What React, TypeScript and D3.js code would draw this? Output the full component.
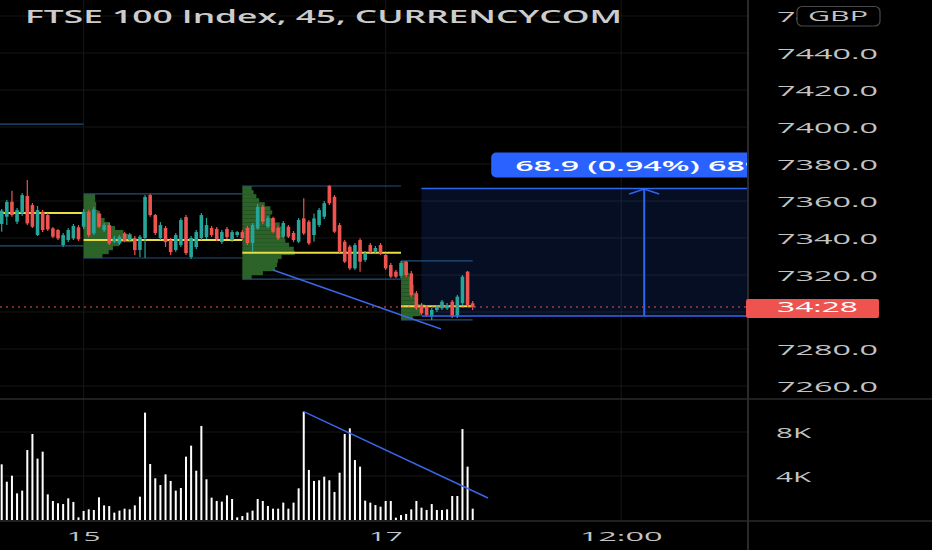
import React, { useEffect, useRef } from 'react';
import * as d3 from 'd3';

const W = 932;
const H = 550;

// 45-minute candles (index 0 = first visible bar)
const opens = [
  7347.6, 7351.5, 7359.6, 7348.8, 7353.3, 7362.7, 7357.8, 7341.6, 7354.2, 7352.4,
  7345.2, 7344.3, 7336.2, 7338.9, 7339.8, 7345.8, 7346.1, 7354.2, 7342.5, 7353.3,
  7344.3, 7347.0, 7338.0, 7337.1, 7342.5, 7338.9, 7339.8, 7333.5, 7340.0, 7363.2,
  7352.4, 7340.0, 7345.4, 7338.9, 7333.5, 7336.2, 7351.3, 7329.7, 7335.1, 7340.0,
  7340.5, 7345.4, 7344.9, 7337.8, 7344.9, 7338.9, 7341.6, 7343.2, 7345.4, 7337.3,
  7345.2, 7356.9, 7346.1, 7350.8, 7345.4, 7340.7, 7346.1, 7342.7, 7338.0, 7350.6,
  7348.8, 7341.6, 7347.0, 7351.5, 7368.1, 7362.3, 7347.0, 7338.0, 7335.3, 7323.6,
  7338.9, 7328.1, 7336.2, 7332.6, 7336.2, 7330.8, 7325.4, 7321.8, 7319.5, 7327.2,
  7320.9, 7310.1, 7303.8, 7302.9, 7297.5, 7301.1, 7302.0, 7302.0, 7305.6, 7297.5,
  7304.7, 7321.8, 7304.7,
];
const highs = [
  7355.7, 7360.5, 7365.6, 7356.2, 7364.3, 7371.4, 7358.9, 7357.3, 7355.1, 7353.5,
  7345.9, 7344.9, 7342.7, 7345.4, 7347.6, 7347.0, 7355.7, 7355.1, 7356.8, 7354.6,
  7348.1, 7348.1, 7341.1, 7341.6, 7343.2, 7342.7, 7341.1, 7341.6, 7363.2, 7363.8,
  7353.0, 7348.6, 7346.5, 7340.0, 7342.7, 7350.8, 7352.4, 7341.1, 7344.3, 7353.5,
  7350.8, 7346.5, 7345.9, 7344.3, 7345.9, 7344.3, 7343.8, 7344.3, 7346.5, 7348.1,
  7358.4, 7357.8, 7351.9, 7351.5, 7346.5, 7349.2, 7347.0, 7343.8, 7350.8, 7361.5,
  7349.7, 7353.3, 7356.2, 7360.0, 7368.6, 7363.2, 7348.1, 7338.9, 7336.2, 7337.3,
  7339.8, 7333.0, 7337.3, 7335.7, 7337.3, 7331.9, 7326.5, 7322.7, 7327.6, 7327.6,
  7322.2, 7311.4, 7304.9, 7303.8, 7302.2, 7303.8, 7306.5, 7304.9, 7306.5, 7309.2,
  7320.0, 7322.2, 7305.9,
];
const lows = [
  7343.4, 7347.0, 7351.5, 7347.6, 7351.9, 7347.0, 7345.4, 7341.1, 7343.2, 7343.8,
  7340.0, 7338.9, 7335.1, 7337.8, 7338.9, 7338.4, 7344.9, 7340.5, 7341.6, 7345.4,
  7343.2, 7336.2, 7337.3, 7336.2, 7337.8, 7337.8, 7330.8, 7329.7, 7329.2, 7351.5,
  7341.6, 7338.9, 7335.1, 7330.8, 7332.4, 7335.1, 7330.8, 7328.6, 7334.1, 7338.9,
  7339.5, 7340.5, 7338.4, 7336.8, 7339.5, 7337.8, 7340.5, 7338.9, 7336.2, 7332.4,
  7344.3, 7347.6, 7345.4, 7342.7, 7338.9, 7340.0, 7340.0, 7337.8, 7337.3, 7341.6,
  7336.2, 7338.0, 7345.9, 7350.3, 7357.8, 7342.7, 7331.9, 7326.5, 7322.7, 7322.7,
  7321.8, 7327.0, 7331.9, 7331.9, 7330.8, 7322.7, 7318.4, 7318.4, 7318.4, 7318.9,
  7308.1, 7301.1, 7298.4, 7297.3, 7295.7, 7300.0, 7301.1, 7301.1, 7296.8, 7296.8,
  7303.8, 7302.7, 7301.1,
];
const closes = [
  7354.8, 7359.5, 7352.4, 7355.1, 7363.2, 7347.9, 7346.1, 7355.1, 7344.3, 7344.7,
  7340.7, 7339.8, 7341.6, 7344.3, 7346.5, 7339.3, 7354.2, 7341.6, 7355.5, 7346.1,
  7347.0, 7337.1, 7339.8, 7340.7, 7338.5, 7341.6, 7333.5, 7340.7, 7362.2, 7352.4,
  7342.7, 7347.0, 7337.8, 7332.4, 7341.6, 7349.7, 7331.9, 7340.0, 7343.2, 7352.4,
  7347.0, 7341.6, 7339.5, 7343.2, 7340.5, 7343.2, 7343.2, 7340.0, 7337.3, 7347.0,
  7356.9, 7348.8, 7350.8, 7343.4, 7339.8, 7348.1, 7340.7, 7338.9, 7349.7, 7342.5,
  7337.1, 7350.6, 7355.1, 7358.8, 7358.8, 7343.4, 7332.6, 7327.2, 7323.6, 7336.2,
  7327.2, 7331.7, 7332.6, 7334.6, 7331.7, 7323.6, 7319.1, 7319.1, 7326.5, 7320.0,
  7309.2, 7302.0, 7299.3, 7298.4, 7301.1, 7302.9, 7305.6, 7303.8, 7297.5, 7308.3,
  7319.1, 7303.8, 7302.7,
];
const volumes = [
  5060, 3480, 4030, 2420, 2670, 6360, 7820, 5580, 6210, 2330,
  1730, 1520, 1450, 1970, 1640, 240, 820, 970, 910, 2060,
  1330, 1270, 670, 850, 1030, 970, 1330, 2120, 9760, 5090,
  3790, 3180, 4150, 3550, 2670, 2910, 5760, 6760, 4480, 8550,
  3700, 2030, 1730, 1670, 2240, 1910, 240, 360, 670, 850,
  1910, 1730, 1270, 1030, 1030, 1580, 1030, 1580, 2880, 9850,
  4550, 3550, 3610, 3940, 3610, 2550, 4300, 7820, 8330, 5450,
  4850, 1760, 1580, 1360, 1210, 1730, 1730, 210, 450, 550,
  970, 1730, 1120, 910, 1450, 910, 910, 970, 2180, 2180,
  8270, 4850, 1030,
];

const priceTicks = [7260, 7280, 7300, 7320, 7340, 7360, 7380, 7400, 7420, 7440, 7460];
const volumeTicks = [4000, 8000];
const volumeTickLabels = ['4K', '8K'];
const timeTicks = [16, 75, 121];
const timeLabels = ['15', '17', '12:00'];

// session volume profiles (bar range, price range, row volumes top -> bottom)
const profileStart = [-15, 16, 47, 78];
const profileEnd = [16, 47, 78, 92];
const profileHigh = [7401.6, 7363.8, 7368.1, 7327.6];
const profileLow = [7335.7, 7329.2, 7317.8, 7295.7];
const profileRows = [
  [4, 5, 6, 6, 7, 8, 9, 10, 10, 12, 14, 16, 18, 20, 22, 24, 26, 30, 25, 20, 16, 12, 8, 5],
  [11, 11, 12, 12, 14, 17, 20, 25, 30, 38, 46, 50, 34, 28, 24, 18],
  [10, 12, 15, 18, 24, 30, 32, 30, 34, 40, 42, 44, 45, 46, 50, 55, 56, 42, 38, 37, 35, 22, 10],
  [5, 6, 7, 8, 10, 12, 13, 13, 14, 15, 16, 24, 22, 20, 12],
];

const priceTrend: [number, number][] = [[53, 7322.7], [85.8, 7290.8]];
const volumeTrend: [number, number][] = [[59, 9850], [95, 2000]];

const measureBars = [82, 169];
const measurePrices = [7297.9, 7366.8];
const measureText = '68.9 (0.94%) 689';

const title = 'FTSE 100 Index, 45, CURRENCYCOM';
const countdown = '34:28';
const currency = 'GBP';

const UP = '#26a69a';
const DOWN = '#ef5350';
const AXIS_TEXT = '#c3c3c3';
const FONT = '"Open Sans", "Noto Sans", sans-serif';

export default function App() {
  const svgRef = useRef<SVGSVGElement | null>(null);

  useEffect(() => {
    if (!svgRef.current) return;
    document.body.style.margin = '0';
    const svg = d3.select(svgRef.current);
    svg.selectAll('*').remove();

    const plotRight = 748;
    const priceBottom = 399;
    const volBottom = 521;

    const x = d3.scaleLinear().domain([0, 92]).range([1.7, 472.7]);
    const y = d3.scaleLinear().domain([7260, 7440]).range([386, 53]);
    const yv = d3.scaleLinear().domain([0, 8000]).range([520, 432]);

    const text = (
      g: any, str: string, tx: number, ty: number, size: number, len: number,
      fill = AXIS_TEXT, anchor = 'start', weight = 400,
    ) =>
      g.append('text')
        .attr('x', tx)
        .attr('y', ty)
        .attr('fill', fill)
        .attr('text-anchor', anchor)
        .attr('textLength', len)
        .attr('lengthAdjust', 'spacingAndGlyphs')
        .style('font-family', FONT)
        .style('font-size', `${size}px`)
        .style('font-weight', weight)
        .text(str);

    svg.append('rect').attr('width', W).attr('height', H).attr('fill', '#000');

    const defs = svg.append('defs');
    defs.append('clipPath').attr('id', 'price-clip')
      .append('rect').attr('x', 0).attr('y', 0).attr('width', plotRight - 1).attr('height', priceBottom);
    defs.append('clipPath').attr('id', 'vol-clip')
      .append('rect').attr('x', 0).attr('y', priceBottom).attr('width', plotRight - 1).attr('height', volBottom - priceBottom);
    // the topmost price label slips under the currency badge
    defs.append('clipPath').attr('id', 'badge-clip')
      .append('rect').attr('x', plotRight).attr('y', 0).attr('width', 797 - plotRight).attr('height', 40);

    // Grid
    const grid = svg.append('g').attr('stroke', '#171717').attr('stroke-width', 1);
    priceTicks.forEach((p) => {
      grid.append('line').attr('x1', 0).attr('x2', plotRight).attr('y1', y(p)).attr('y2', y(p));
    });
    volumeTicks.forEach((v) => {
      grid.append('line').attr('x1', 0).attr('x2', plotRight).attr('y1', yv(v)).attr('y2', yv(v));
    });
    timeTicks.forEach((t) => {
      grid.append('line').attr('x1', x(t)).attr('x2', x(t)).attr('y1', 0).attr('y2', volBottom);
    });

    // ---- Price pane
    const pg = svg.append('g').attr('clip-path', 'url(#price-clip)');

    const mx0 = x(measureBars[0]);
    const mx1 = x(measureBars[1]);
    const my0 = y(measurePrices[0]);
    const my1 = y(measurePrices[1]);
    const mMid = (mx0 + mx1) / 2;

    pg.append('rect')
      .attr('x', mx0).attr('y', my1)
      .attr('width', mx1 - mx0).attr('height', my0 - my1)
      .attr('fill', 'rgba(41, 98, 255, 0.14)');

    // Volume profiles
    profileRows.forEach((rows, k) => {
      const px0 = x(profileStart[k]);
      const px1 = x(profileEnd[k]);
      const top = y(profileHigh[k]);
      const bottom = y(profileLow[k]);
      const rowH = (bottom - top) / rows.length;
      const wScale = d3.scaleLinear().domain([0, d3.max(rows) || 1]).range([0, (px1 - px0) * 0.33]);
      const pocIdx = rows.indexOf(d3.max(rows) || 0);

      pg.append('g').selectAll('rect').data(rows).enter().append('rect')
        .attr('x', px0)
        .attr('y', (_d: number, i: number) => top + i * rowH)
        .attr('width', (d: number) => wScale(d))
        .attr('height', rowH + 0.2)
        .attr('fill', '#2c6329');

      [top, bottom].forEach((ly) => {
        pg.append('line').attr('x1', px0).attr('x2', px1).attr('y1', ly).attr('y2', ly)
          .attr('stroke', '#24507a').attr('stroke-width', 1.2);
      });
      const pocY = top + (pocIdx + 0.5) * rowH;
      pg.append('line').attr('x1', px0).attr('x2', px1).attr('y1', pocY).attr('y2', pocY)
        .attr('stroke', '#e9dc45').attr('stroke-width', 2);
    });

    // Trend line on price
    pg.append('path')
      .datum(priceTrend)
      .attr('fill', 'none')
      .attr('stroke', '#3a66e8')
      .attr('stroke-width', 1.5)
      .attr('d', d3.line<[number, number]>().x((d) => x(d[0])).y((d) => y(d[1])));

    // Candles
    const idx = d3.range(closes.length);
    const bodyW = 3.6;
    const cg = pg.append('g');
    cg.selectAll('line.wick').data(idx).enter().append('line')
      .attr('x1', (i: number) => x(i)).attr('x2', (i: number) => x(i))
      .attr('y1', (i: number) => y(highs[i])).attr('y2', (i: number) => y(lows[i]))
      .attr('stroke', (i: number) => (closes[i] >= opens[i] ? UP : DOWN))
      .attr('stroke-width', 1.2);
    cg.selectAll('rect.body').data(idx).enter().append('rect')
      .attr('x', (i: number) => x(i) - bodyW / 2)
      .attr('y', (i: number) => y(Math.max(opens[i], closes[i])))
      .attr('width', bodyW)
      .attr('height', (i: number) => Math.max(1, Math.abs(y(opens[i]) - y(closes[i]))))
      .attr('fill', (i: number) => (closes[i] >= opens[i] ? UP : DOWN));

    // Current price line
    const lastY = y(closes[closes.length - 1]);
    pg.append('line').attr('x1', 0).attr('x2', plotRight).attr('y1', lastY).attr('y2', lastY)
      .attr('stroke', DOWN).attr('stroke-width', 1).attr('stroke-dasharray', '2 4');

    // Measure tool
    [my0, my1].forEach((ly) => {
      pg.append('line').attr('x1', mx0).attr('x2', mx1).attr('y1', ly).attr('y2', ly)
        .attr('stroke', '#2f66f0').attr('stroke-width', 1.5);
    });
    pg.append('line').attr('x1', mMid).attr('x2', mMid).attr('y1', my0).attr('y2', my1 + 1)
      .attr('stroke', '#2f66f0').attr('stroke-width', 2);
    pg.append('path')
      .attr('d', `M${mMid - 15},${my1 + 5.5}L${mMid},${my1 + 0.5}L${mMid + 15},${my1 + 5.5}`)
      .attr('fill', 'none').attr('stroke', '#2f66f0').attr('stroke-width', 1.5);
    pg.append('rect')
      .attr('x', mMid - 153).attr('y', my1 - 36).attr('width', 306).attr('height', 25).attr('rx', 5)
      .attr('fill', '#2962ff');
    text(pg, measureText, mMid - 129, my1 - 17.5, 15, 248, '#ffffff', 'start', 600);

    // ---- Volume pane
    const vg = svg.append('g').attr('clip-path', 'url(#vol-clip)');
    vg.selectAll('rect').data(idx).enter().append('rect')
      .attr('x', (i: number) => x(i) - 1)
      .attr('y', (i: number) => yv(volumes[i]))
      .attr('width', 2)
      .attr('height', (i: number) => yv(0) - yv(volumes[i]))
      .attr('fill', '#ffffff');
    vg.append('path')
      .datum(volumeTrend)
      .attr('fill', 'none')
      .attr('stroke', '#3a66e8')
      .attr('stroke-width', 1.5)
      .attr('d', d3.line<[number, number]>().x((d) => x(d[0])).y((d) => yv(d[1])));

    // ---- Separators
    const sep = svg.append('g').attr('stroke', '#2a2a2a');
    sep.append('line').attr('x1', plotRight).attr('x2', plotRight).attr('y1', 0).attr('y2', H).attr('stroke-width', 2);
    sep.append('line').attr('x1', 0).attr('x2', W).attr('y1', priceBottom).attr('y2', priceBottom).attr('stroke-width', 1.5);
    sep.append('line').attr('x1', 0).attr('x2', W).attr('y1', volBottom).attr('y2', volBottom).attr('stroke-width', 1.5);

    // ---- Axes text
    const ax = svg.append('g');
    const badgeTop = ax.append('g').attr('clip-path', 'url(#badge-clip)');
    priceTicks
      .filter((p) => Math.abs(y(p) - lastY) > 12)
      .forEach((p) => {
        const target = y(p) < 30 ? badgeTop : ax;
        text(target, d3.format('.1f')(p), 777, y(p) + 5.5, 15, 101);
      });
    volumeTicks.forEach((v, i) => {
      text(ax, volumeTickLabels[i], 776, yv(v) + 5.5, 14, 35);
    });
    timeTicks.forEach((t, i) => {
      text(ax, timeLabels[i], x(t), 540.5, 13, timeLabels[i].length > 2 ? 83 : 34, AXIS_TEXT, 'middle');
    });

    // currency badge
    ax.append('rect').attr('x', 797).attr('y', 6.5).attr('width', 83).attr('height', 19.5).attr('rx', 5)
      .attr('fill', '#000').attr('stroke', '#4a4a4a').attr('stroke-width', 1.2);
    text(ax, currency, 808, 21, 14, 60);

    // countdown badge
    ax.append('rect').attr('x', 746).attr('y', lastY - 8).attr('width', 133).attr('height', 19).attr('rx', 2)
      .attr('fill', '#ef5350');
    text(ax, countdown, 777, lastY + 5, 14, 81, '#ffffff');

    // title
    text(svg, title, 25, 23, 18, 597, '#cccccc', 'start', 600);
  }, []);

  return <svg ref={svgRef} width={W} height={H} style={{ display: 'block' }} />;
}
